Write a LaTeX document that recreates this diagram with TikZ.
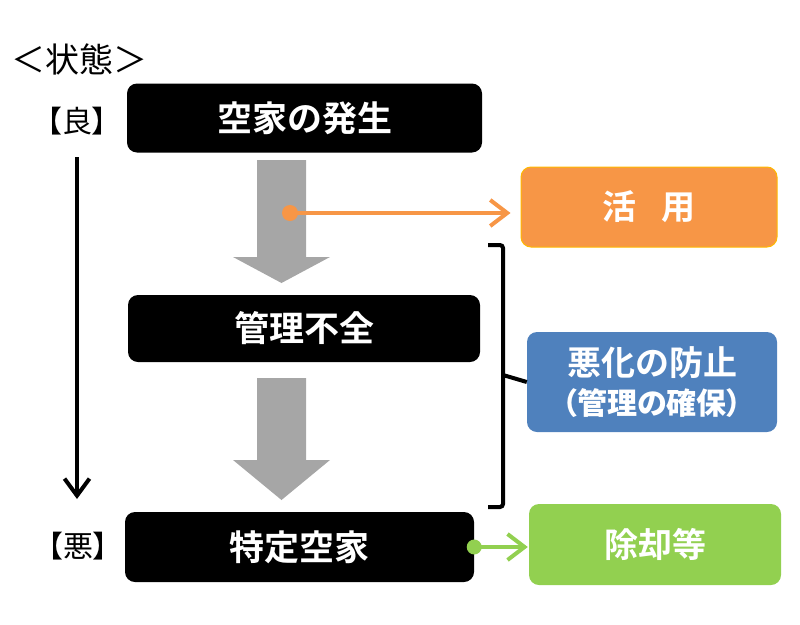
\documentclass[tikz,border=0pt]{standalone}
\usepackage{fontspec}
\setmainfont{Noto Sans CJK JP}[BoldFont={Noto Sans CJK JP Bold}]
\newfontfamily\jpnarrow{Noto Sans CJK JP}[RawFeature=+palt]
\usetikzlibrary{arrows.meta}
\definecolor{flowgray}{HTML}{A6A6A6}
\definecolor{useorange}{HTML}{F79646}
\definecolor{keepblue}{HTML}{4F81BD}
\definecolor{rmgreen}{HTML}{92D050}

\begin{document}
\begin{tikzpicture}[
  x=1pt, y=-1pt,
  stage/.style={fill=black, rounded corners=10pt, text=white, inner sep=0pt,
    font=\fontsize{35}{40}\selectfont\bfseries, minimum width=352pt, minimum height=69pt},
  measure/.style={rounded corners=10pt, text=white, inner sep=0pt, align=center,
    font=\fontsize{34}{40}\selectfont\bfseries, minimum width=252pt},
  rank/.style={font=\jpnarrow\fontsize{30}{34}\selectfont, inner sep=0pt},
  flow/.style={fill=flowgray},
  link/.style={line width=4pt, -{Straight Barb[length=17pt, width=26pt]}},
]
  \useasboundingbox (0,0) rectangle (800,624);
  % #1 shaft top, #2 head start, #3 tip
  \newcommand{\flowarrow}[3]{%
    \path[flow] (257,#1) -- (306,#1) -- (306,#2) -- (330,#2) -- (281.5,#3)
      -- (233,#2) -- (257,#2) -- cycle;}

  % state scale on the left
  \node[rank, font=\jpnarrow\fontsize{34}{36}\selectfont] (state) at (79,59) {＜状態＞};
  \node[rank] (good) at (77,121) {【良】};
  \node[rank] (bad) at (78,546) {【悪】};
  \coordinate (scaletop) at (77,157);
  \coordinate (scalebot) at (77,499);
  \draw[line width=4pt, -{Straight Barb[length=17pt, width=25pt]}] (scaletop) -- (scalebot);

  % stages
  \node[stage, minimum width=355pt] (occur) at (304.5,118) {空家の発生};
  \node[stage, minimum height=67pt] (neglect) at (304,328.5) {管理不全};
  \node[stage, minimum width=349pt, minimum height=70pt] (special) at (299.5,547) {特定空家};
  \flowarrow{160}{257}{283}
  \flowarrow{378}{460}{500}

  % measures
  \node[measure, fill=useorange, draw=orange!55!yellow, line width=1pt,
    minimum width=256pt, minimum height=80pt] (use) at (649,207) {活\hspace{0.75em}用};
  \node[measure, fill=keepblue, minimum width=250pt, minimum height=100pt] (keep) at (652,382)
    {悪化の防止\\[-1pt]{\jpnarrow\fontsize{30}{34}\selectfont （管理の確保）}};
  \node[measure, fill=rmgreen, minimum height=81pt] (remove) at (655,544.5) {除却等};

  % connectors
  \coordinate (usedot) at (290,213);
  \fill[useorange] (usedot) circle (8pt);
  \draw[link, useorange, shorten >=10pt] (usedot) -- (usedot -| use.west);
  \fill[rmgreen] (special.east) circle (7.5pt);
  \draw[link, rmgreen, shorten >=1pt] (special.east) -- (special.east -| remove.west);

  % bracket over neglect period
  \draw[line width=4pt, rounded corners=3pt] (488,245) -- (503,245) -- (503,507) -- (488,507);
  \draw[line width=4pt] (503,375) -- (keep.west);
\end{tikzpicture}
\end{document}
